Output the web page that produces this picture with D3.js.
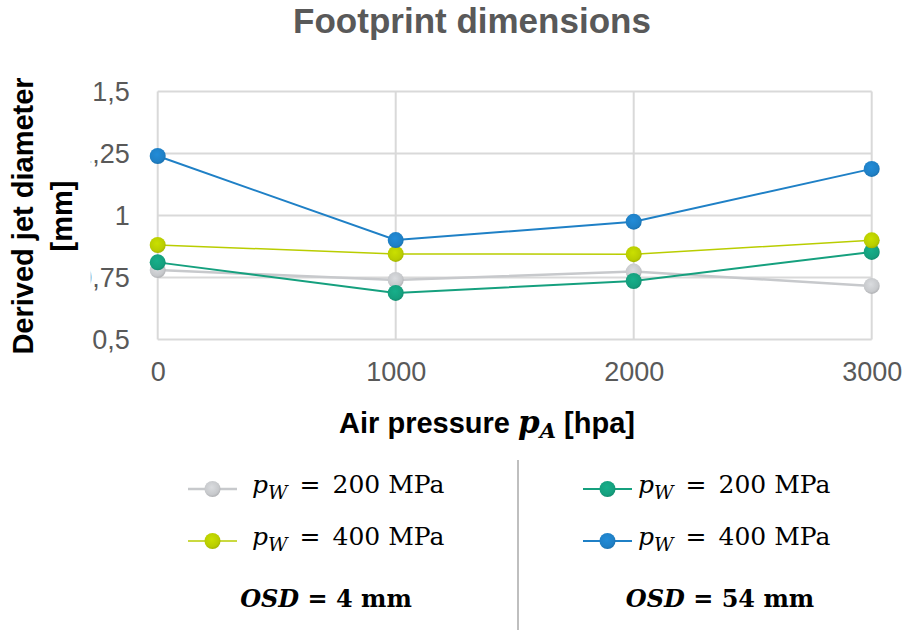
<!DOCTYPE html>
<html>
<head>
<meta charset="utf-8">
<script src="https://cdn.jsdelivr.net/npm/d3@7/dist/d3.min.js"></script>
<style>
  html, body { margin: 0; padding: 0; background: #fff; }
  svg { display: block; }
</style>
</head>
<body>
<svg id="chart" width="908" height="630"></svg>
<script>
// Air pressure levels (hPa)
const pressures = [0, 1000, 2000, 3000];

// Derived jet diameter (mm) per series
const osd4_pw200  = [0.78, 0.74, 0.774, 0.716];
const osd4_pw400  = [0.881, 0.845, 0.844, 0.90];
const osd54_pw200 = [0.811, 0.688, 0.736, 0.853];
const osd54_pw400 = [1.24, 0.901, 0.975, 1.188];

// Axis ticks
const yTicks = [0.5, 0.75, 1, 1.25, 1.5];
const yTickLabels = ["0,5", "0,75", "1", "1,25", "1,5"];
const xTicks = [0, 1000, 2000, 3000];

const series = [
  { name: "osd4_pw200",  values: osd4_pw200,  color: "#c7c9cc", width: 2.5 },
  { name: "osd54_pw200", values: osd54_pw200, color: "#15a07e", width: 2 },
  { name: "osd4_pw400",  values: osd4_pw400,  color: "#b9cd00", width: 1.5 },
  { name: "osd54_pw400", values: osd54_pw400, color: "#1f80c6", width: 2 }
];

const svg = d3.select("#chart");
const defs = svg.append("defs");

const x = d3.scaleLinear().domain([0, 3000]).range([157.7, 871.7]);
const y = d3.scaleLinear().domain([0.5, 1.5]).range([339.5, 91.5]);

// Shaded marker fills
series.forEach(s => {
  const g = defs.append("radialGradient")
    .attr("id", "grad-" + s.name)
    .attr("cx", "45%").attr("cy", "40%").attr("r", "60%");
  g.append("stop").attr("offset", "0%").attr("stop-color", d3.color(s.color).brighter(0.25));
  g.append("stop").attr("offset", "75%").attr("stop-color", s.color);
  g.append("stop").attr("offset", "100%").attr("stop-color", d3.color(s.color).darker(0.35));
});

// Title
svg.append("text")
  .attr("x", 472).attr("y", 33)
  .attr("text-anchor", "middle")
  .attr("font-family", "Liberation Sans, Arial, sans-serif")
  .attr("font-weight", "bold")
  .attr("font-size", 35)
  .attr("fill", "#595959")
  .text("Footprint dimensions");

// Gridlines
const grid = svg.append("g");
grid.selectAll("line.h").data(yTicks).join("line")
  .attr("x1", x(0)).attr("x2", x(3000))
  .attr("y1", d => y(d)).attr("y2", d => y(d))
  .attr("stroke", "#d9d9d9").attr("stroke-width", 2);
grid.selectAll("line.v").data(xTicks).join("line")
  .attr("y1", y(0.5)).attr("y2", y(1.5))
  .attr("x1", d => x(d)).attr("x2", d => x(d))
  .attr("stroke", "#d9d9d9").attr("stroke-width", 2);

// Y tick labels (clipped on the left by the axis title box)
defs.append("clipPath").attr("id", "ylabel-clip")
  .append("rect").attr("x", 90.8).attr("y", 60).attr("width", 70).attr("height", 310);

const yAxis = d3.axisLeft(y).tickValues(yTicks)
  .tickFormat((d, i) => yTickLabels[i]).tickSize(0).tickPadding(28);
const yClip = svg.append("g").attr("clip-path", "url(#ylabel-clip)");
const yg = yClip.append("g")
  .attr("transform", `translate(${x(0)},0)`)
  .call(yAxis);
yg.select(".domain").remove();
yg.selectAll("text")
  .attr("font-family", "Liberation Sans, Arial, sans-serif")
  .attr("font-size", 27)
  .attr("fill", "#595959");

// X tick labels
const xAxis = d3.axisBottom(x).tickValues(xTicks).tickFormat(d3.format("d"))
  .tickSize(0).tickPadding(22);
const xg = svg.append("g")
  .attr("transform", `translate(0,${y(0.5)})`)
  .call(xAxis);
xg.select(".domain").remove();
xg.selectAll("text")
  .attr("font-family", "Liberation Sans, Arial, sans-serif")
  .attr("font-size", 27)
  .attr("fill", "#595959");

// Series lines and markers
const line = d3.line().x((d, i) => x(pressures[i])).y(d => y(d));
series.forEach(s => {
  const g = svg.append("g");
  g.append("path").datum(s.values)
    .attr("d", line)
    .attr("fill", "none")
    .attr("stroke", s.color)
    .attr("stroke-width", s.width);
  g.selectAll("circle").data(s.values).join("circle")
    .attr("cx", (d, i) => x(pressures[i]))
    .attr("cy", d => y(d))
    .attr("r", 8)
    .attr("fill", `url(#grad-${s.name})`);
});

// Y axis title
const yTitle = svg.append("text")
  .attr("transform", "translate(0,216) rotate(-90)")
  .attr("text-anchor", "middle")
  .attr("font-family", "Liberation Sans, Arial, sans-serif")
  .attr("font-weight", "bold")
  .attr("font-size", 29)
  .attr("fill", "#000");
yTitle.append("tspan").attr("x", 0).attr("y", 33).text("Derived jet diameter");
yTitle.append("tspan").attr("x", 0).attr("y", 72).text("[mm]");

// X axis title
const xTitle = svg.append("text")
  .attr("x", 487).attr("y", 433)
  .attr("text-anchor", "middle")
  .attr("font-family", "Liberation Sans, Arial, sans-serif")
  .attr("font-weight", "bold")
  .attr("font-size", 29)
  .attr("fill", "#000");
xTitle.append("tspan").text("Air pressure ");
xTitle.append("tspan").attr("font-family", "DejaVu Serif, serif")
  .attr("font-style", "italic").attr("font-size", 31).text("p");
xTitle.append("tspan").attr("font-family", "DejaVu Serif, serif")
  .attr("font-style", "italic").attr("font-size", 21).attr("dy", 5).text("A");
xTitle.append("tspan").attr("dy", -5).text(" [hpa]");

// Legend
const legendItems = [
  { s: series[0], pw: "200", lx: 188, tx: 252, ly: 489 },
  { s: series[2], pw: "400", lx: 188, tx: 252, ly: 541 },
  { s: series[1], pw: "200", lx: 583, tx: 638, ly: 489 },
  { s: series[3], pw: "400", lx: 583, tx: 638, ly: 541 }
];
const lg = svg.append("g");
legendItems.forEach(it => {
  lg.append("line")
    .attr("x1", it.lx).attr("x2", it.lx + 49)
    .attr("y1", it.ly).attr("y2", it.ly)
    .attr("stroke", it.s.color).attr("stroke-width", it.s.width);
  lg.append("circle")
    .attr("cx", it.lx + 24.5).attr("cy", it.ly).attr("r", 8)
    .attr("fill", `url(#grad-${it.s.name})`);
  const t = lg.append("text")
    .attr("x", it.tx).attr("y", it.ly + 4)
    .attr("font-family", "DejaVu Serif, serif")
    .attr("font-size", 25)
    .attr("fill", "#000");
  t.append("tspan").attr("font-style", "italic").text("p");
  t.append("tspan").attr("font-style", "italic").attr("font-size", 19).attr("dy", 6).text("W");
  t.append("tspan").attr("dy", -6).attr("dx", 12).text("=");
  t.append("tspan").attr("dx", 12).text(`${it.pw} MPa`);
});

// Group captions
[{ cx: 326, mm: "4" }, { cx: 720, mm: "54" }].forEach(c => {
  const t = lg.append("text")
    .attr("x", c.cx).attr("y", 607)
    .attr("text-anchor", "middle")
    .attr("font-family", "DejaVu Serif, serif")
    .attr("font-weight", "bold")
    .attr("font-size", 24)
    .attr("fill", "#000");
  t.append("tspan").attr("font-style", "italic").text("OSD");
  t.append("tspan").text(` = ${c.mm} mm`);
});

// Separator between the two legend groups
lg.append("line")
  .attr("x1", 518).attr("x2", 518).attr("y1", 460).attr("y2", 630)
  .attr("stroke", "#bfbfbf").attr("stroke-width", 2);
</script>
</body>
</html>
